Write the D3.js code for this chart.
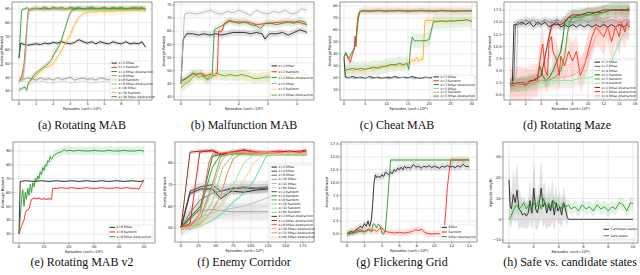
<!DOCTYPE html>
<html>
<head>
<meta charset="utf-8">
<script src="https://cdn.jsdelivr.net/npm/d3@7"></script>
<style>
  body { margin: 0; background: #fff; }
  svg { display: block; }
  text { font-family: "DejaVu Sans", sans-serif; }
  text.caption { font-family: "Liberation Serif", "Times New Roman", serif; }
</style>
</head>
<body>
<svg id="chart" width="640" height="275"></svg>
<script>
// ---------- (a) Rotating MAB ----------
var aNames = ["k=2 RMax", "k=2 Random", "k=2 RMax Abstraction", "k=8 RMax", "k=8 Random",
  "k=8 RMax Abstraction", "k=16 RMax", "k=16 Random", "k=16 RMax Abstraction"];
var aK2RMax = [[0,54],[0.1,65],[0.3,64],[0.5,63.5],[0.75,64],[1,64.5],[1.25,64],[1.5,65],[1.75,64.5],[2,65.5],[2.25,65],[2.5,66],[2.75,65],[3,64.5],[3.25,65.5],[3.5,67.5],[3.75,66],[4,65],[4.25,66],[4.5,64.5],[4.75,66],[5,65],[5.25,64.5],[5.5,66],[5.75,65],[6,64.5],[6.25,66],[6.5,64.5],[6.75,65],[7,64.5],[7.2,66],[7.4,62]];
var aK2Random = [[0,37],[0.15,40],[0.3,50],[0.45,75],[0.55,89],[0.7,90],[1,90.5],[1.5,90],[2,90.5],[2.5,90],[3,90.5],[3.5,90],[4,90.5],[4.5,90],[5,90.5],[5.5,90],[6,90.5],[6.5,90],[7,90.5],[7.4,89.5]];
var aK2Abs = [[0,54],[0.15,89],[0.3,90],[0.5,91],[0.6,89],[0.75,90],[1,90.5],[1.25,90],[1.5,91.5],[1.75,90],[2,91],[2.25,90.5],[2.5,91],[2.75,90],[3,91],[3.25,90.5],[3.5,91],[3.75,90],[4,90.5],[4.25,91.5],[4.5,90],[4.75,90.5],[5,91],[5.25,90],[5.5,91],[5.75,90.5],[6,91],[6.25,90],[6.5,90.5],[6.75,91],[7,90.5],[7.2,91],[7.4,89]];
var aK8RMax = [[0,39],[0.25,38.5],[0.5,39.5],[0.75,39],[1,38],[1.25,39.5],[1.5,38.5],[1.75,39],[2,38],[2.25,39.5],[2.5,38.5],[2.75,39],[3,40],[3.25,38],[3.5,39],[3.75,39.5],[4,38.5],[4.25,39],[4.5,38],[4.75,39.5],[5,39],[5.25,38],[5.5,39.5],[5.75,39],[6,38.5],[6.25,39.5],[6.5,38.5],[6.75,39],[7,38],[7.2,39],[7.4,39.5]];
var aK8Random = [[0,37],[0.25,39],[0.4,55],[0.5,80],[0.6,89],[0.8,90],[1.5,89.5],[2.5,90],[3.5,89.5],[4.5,90],[5.5,89.5],[6.5,90],[7.4,89.5]];
var aK8Abs = [[0,37],[0.2,38],[0.35,55],[0.45,75],[0.55,88],[0.7,89.5],[1,90],[1.5,89.5],[2,90],[2.5,89.5],[3,90],[3.5,89.5],[4,90],[4.5,89.5],[5,90],[5.5,89.5],[6,90],[6.5,89.5],[7,90],[7.4,90]];
var aK16RMax = [[0,36.5],[0.3,37],[0.6,36],[1,36.5],[1.4,37],[1.8,36],[2.2,36.5],[2.6,37],[3,36],[3.4,36.5],[3.8,37],[4.2,36],[4.6,36.5],[5,37],[5.4,36],[5.8,36.5],[6.2,37],[6.6,36],[7,36.5],[7.4,37]];
var aK16Random = [[0.55,36],[0.7,38],[1,41],[1.25,44],[1.5,47],[1.75,48],[2,50],[2.25,55],[2.5,60],[2.75,66],[3,71],[3.2,77],[3.4,82],[3.6,85],[3.8,87],[4,87.5],[4.25,88],[4.5,87.5],[4.75,88.5],[5,88],[5.25,88.5],[5.5,88],[5.75,89],[6,88.5],[6.25,89],[6.5,89],[6.75,90],[7,89.5],[7.2,90],[7.4,90]];
var aK16Abs = [[0,31],[0.2,32],[0.35,33],[0.45,30.5],[0.55,36],[0.7,38],[0.9,42],[1.1,44],[1.3,46],[1.5,48],[1.7,50],[1.9,53],[2.05,57],[2.2,60],[2.35,63],[2.5,68],[2.65,74],[2.8,80],[2.95,86],[3.1,89],[3.3,90],[3.5,90.5],[4,90],[4.5,90.5],[5,90],[5.5,90.5],[6,90],[6.5,90.5],[7,90],[7.4,90.5]];
var aSpread = [1.5, 2, 1.5, 1.5, 1, 1.5, 1, 3, 2];

// ---------- (b) Malfunction MAB ----------
var bNames = ["k=2 RMax", "k=2 Random", "k=2 RMax Abstraction", "k=5 RMax", "k=5 Random", "k=5 RMax Abstraction"];
var bK2RMax = [[0,45],[0.08,62],[0.2,64],[0.4,64],[0.6,63.5],[0.8,64],[1,63.5],[1.2,64],[1.4,63.5],[1.6,64],[1.8,64.5],[2,64.5],[2.2,64.5],[2.4,64],[2.6,64.5],[2.8,64],[2.9,62],[3.05,64],[3.3,64],[3.5,64.5],[3.7,63.5],[3.9,64.5],[4.1,65.5],[4.25,65],[4.35,64.5]];
var bK2Random = [[0,46],[0.2,47],[0.4,49],[0.55,48.5],[0.7,49],[0.85,48],[1,48.5],[1.1,48],[1.25,48.5],[1.3,65],[1.42,65],[1.5,68],[1.65,69],[1.8,68.5],[2,68.5],[2.3,68.5],[2.6,67.5],[3,68],[3.5,68.5],[4,68.5],[4.35,67.5]];
var bK2Abs = [[0,46],[0.15,47],[0.3,48],[0.45,49],[0.6,47.5],[0.75,48],[0.9,47],[1,48],[1.08,48.5],[1.15,65.5],[1.3,66.5],[1.4,67],[1.55,68],[1.7,69],[1.85,68.5],[2,68],[2.2,68.5],[2.4,67.5],[2.6,67],[2.75,66],[2.9,68],[3.1,68],[3.3,67.5],[3.5,68],[3.7,68.5],[3.9,68],[4.1,69],[4.25,68.5],[4.35,67.5]];
var bK5RMax = [[0,45],[0.12,71.5],[0.3,72],[0.5,71.5],[0.7,72],[0.9,72.5],[1,73],[1.2,72],[1.4,71.5],[1.6,72.5],[1.8,72],[2,73],[2.2,72],[2.4,71],[2.6,73],[2.8,72],[3,71.5],[3.2,72.5],[3.4,72],[3.6,73],[3.8,71.5],[4,72],[4.15,73.5],[4.35,73]];
var bK5Random = [[0,44],[0.2,46],[0.4,47.5],[0.6,48],[0.8,47],[1,48],[1.2,48.5],[1.5,48],[2,48],[2.5,47.5],[3,48],[3.5,48],[4,48.5],[4.35,48]];
var bK5Abs = [[0,43.5],[0.15,45],[0.3,46],[0.45,48],[0.6,49],[0.75,48.5],[0.9,46.5],[1,47],[1.1,48],[1.2,49],[1.35,48.5],[1.5,48],[1.7,48.5],[1.9,48],[2.1,48.5],[2.3,48],[2.5,47],[2.7,47],[2.9,47.5],[3.1,47.5],[3.3,48],[3.5,48],[3.7,48.5],[3.9,48.5],[4.1,49],[4.35,48]];
var bSpread = [1.2, 1, 1.5, 1.2, 2, 2];

// ---------- (c) Cheat MAB ----------
var cNames = ["k=3 RMax", "k=3 Random", "k=3 RMax Abstraction", "k=5 RMax", "k=5 Random", "k=5 RMax Abstraction"];
var cK3RMax = [[0,37],[0.3,21],[1,20],[2,21],[3,20],[4,20.5],[5,19.5],[6,21],[7,20],[8,20.5],[9,19.5],[10,20.5],[11,20],[12,21],[13,20],[14,20.5],[15,20],[16,21],[17,20],[18,19.5],[19,20.5],[20,20],[21,20.5]];
var cK3Random = [[0,38],[0.5,40],[1,36],[1.5,33],[2,40],[2.4,45],[2.6,55],[2.8,46],[3,62],[3.3,72],[3.6,75],[4,75.5],[4.5,76],[6,76],[8,76],[10,76],[12,76],[14,76],[16,76],[18,76],[20,76],[22,76],[24,76],[26,76],[28,76],[30,76]];
var cK3Abs = [[0,37],[0.4,41],[0.8,38],[1.2,36],[1.6,40],[2,42],[2.4,44],[2.8,50],[3.1,60],[3.4,70],[3.7,75],[4,76],[5,76],[6,75.5],[7,76],[8,76.5],[9,76],[10,75.5],[11,76],[12,76],[13,76.5],[14,76],[15,75.5],[16,76],[17,76],[18,76.5],[19,76],[20,76],[21,75.5],[22,76],[23,76.5],[24,76],[25,76],[26,75.5],[27,76],[28,76],[29,76],[30,76]];
var cK5RMax = [[0,21],[0.5,19.5],[1.5,20],[2.5,19],[3.5,20],[4.5,19.5],[5.5,20.5],[6.5,19],[7.5,20],[8.5,19.5],[9.5,20],[10.5,19],[11.5,20],[12.5,19.5],[13.5,20.5],[14.5,19.5],[15.5,20],[16.5,19],[17.5,20],[18.5,19.5],[19.5,20.5],[20.5,19.5],[21.5,20]];
var cK5Random = [[0,26],[1,27],[2,26],[3,27],[4,26],[5,27],[6,28],[7,27],[8,29],[9,30],[10,29],[11,31],[12,30],[13,31],[14,30],[15,33],[15.5,32],[16,35],[16.5,34],[17,37],[17.5,34],[18,36],[18.5,35],[18.8,55],[19,68],[20,68],[21,68],[22,67.5],[23,68],[24,67.5],[25,68],[26,67.5],[27,68],[28,68],[29,68.5],[30,67.5]];
var cK5Abs = [[0,26],[1,27],[2,28],[3,27],[4,28],[5,27],[6,28],[7,29],[8,28],[9,29],[10,30],[11,31],[12,31],[13,32],[14,31],[14.8,32],[15.2,27],[15.6,45],[16,54],[16.5,51],[17,51],[18,51],[19,51],[20,52],[20.5,60],[21,67],[22,67],[23,67.5],[24,67],[25,67.5],[26,67.5],[27,68],[28,68],[29,68.5],[30,67]];
var cSpread = [0.8, 3, 2, 0.8, 3, 6];

// ---------- (d) Rotating Maze ----------
var dNames = ["k=2 RMax", "k=3 RMax", "k=4 RMax", "k=2 Random", "k=3 Random", "k=4 Random",
  "k=2 RMax Abstraction", "k=3 RMax Abstraction", "k=4 RMax Abstraction"];
var dK2RMax = [[0,2.5],[0.3,2],[0.5,14.5],[1,14.5],[1.5,15],[2,14.5],[2.5,15],[3,14],[3.5,15],[4,14.5],[4.5,15],[5,14],[5.5,14.5],[6,15],[6.5,14],[7,14.5],[7.5,14],[8,14.5],[8.5,14],[9,14.5],[9.5,14],[10,14.5],[10.5,14],[11,14.5],[11.5,14],[12,14.5],[12.5,14],[13,14.5],[13.5,14],[14,14.5],[14.5,14],[15,14.5],[15.3,14]];
var dK3RMax = [[0,2.5],[0.5,3],[0.7,14.5],[1,15],[1.5,14.5],[2,15.5],[2.5,15],[3,15.5],[3.5,14.5],[4,15],[4.5,15.5],[5,15],[5.5,15],[6,15.5],[6.5,15],[7,15.5],[8,15],[9,15.5],[10,15],[11,15.5],[12,15],[13,15.5],[14,15],[15,15.5],[15.3,15]];
var dK4RMax = [[0,2.5],[0.8,3],[1,14.5],[1.5,15.5],[2,15],[3,15.5],[4,15],[5,15.5],[6,15],[7,15.5],[8,15.2],[9,15.5],[10,15],[11,15.5],[12,15],[13,15.5],[14,15],[15.3,15.5]];
var dK2Random = [[0,2],[0.5,2.5],[1,2],[1.5,2.5],[2,2],[2.5,3],[3,3],[3.5,3.5],[3.8,6],[4.2,4],[4.5,3],[5,3.5],[5.5,5],[6,7],[6.5,9],[6.8,12],[7,15],[7.5,16],[8,16],[9,16.5],[10,16.5],[11,17],[12,17],[13,17.5],[14,17.5],[15,17.5],[15.3,18]];
var dK3Random = [[0,2],[1,2],[2,2.5],[3,2.5],[4,3],[5,3],[5.5,3.5],[6,4],[6.5,5],[7,8],[7.3,12],[7.6,15],[8,16],[9,16],[10,16.5],[11,16.5],[12,17],[13,17.5],[14,17.5],[15.3,17.5]];
var dK4Random = [[0,2],[1,2],[2,2],[3,2.5],[4,2.5],[5,3],[6,3],[7,3],[8,3],[9,3.5],[10,3.5],[11,4],[12,4],[12.5,5],[13,7],[13.5,9],[14,11],[14.5,12.5],[15,13.5],[15.3,14]];
var dK2Abs = [[0,2],[0.5,2],[1,2.5],[2,2.5],[3,3],[3.5,3.5],[4,4],[4.5,8],[5,12],[5.3,14],[5.6,14.5],[6,14.5],[6.5,14.5],[7,15],[7.5,16],[8,16.5],[9,16.5],[10,17],[11,17],[12,17.5],[13,17.5],[14,17.5],[15,17.5],[15.3,17.5]];
var dK3Abs = [[0,2],[1,2.5],[2,2],[3,3],[3.5,3],[4,9],[4.2,10.5],[4.5,5],[4.8,4],[5,11],[5.3,12],[5.5,9],[6,7],[6.3,4],[6.5,8],[7,6],[7.5,9],[8,7],[8.5,9],[9,4],[9.5,6],[10,9],[10.5,12],[11,14],[11.5,13],[12,12],[12.5,14],[13,11],[13.5,14],[14,12],[14.3,15],[14.7,13],[15,15],[15.3,14.5]];
var dK4Abs = [[0,2],[2,2.5],[4,3],[6,3.5],[8,4],[9,5],[10,8],[11,12],[12,14],[13,13],[14,15],[15,14],[15.3,15]];
var dSpread = [0.8, 0.8, 0.8, 1.5, 1.5, 1.5, 1, 3.5, 2.5];

// ---------- (e) Rotating MAB v2 ----------
var eNames = ["k=8 RMax", "k=8 Random", "k=8 RMax Abstraction"];
var eRMax = [[0,30],[0.5,68],[3,68.5],[6,68],[9,68.5],[12,68],[15,68.5],[18,68],[21,68.5],[24,68],[27,68.5],[30,68],[33,68.5],[36,68],[39,68.5],[42,68],[45,68.5],[48,68],[50,68.5]];
var eRandom = [[0,30],[0.5,33],[1,36],[1.5,38],[2,40],[2.5,45],[3,47],[3.5,47.5],[4,48],[4.5,52],[5,55],[5.5,55.5],[6,56],[7,55.5],[8,56],[9,55],[10,55.5],[11,55],[12,55.5],[13,55],[13.5,63],[15,63],[17,63.5],[19,63],[21,63.5],[23,63],[25,63],[27,63.5],[29,63],[31,63],[33,63.5],[35,63],[37,63],[39,63.5],[41,63],[43,63.5],[45,63],[47,63],[48,62.5],[49,66],[50,69]];
var eAbs = [[0,30],[0.5,42],[1,55],[1.5,62],[2,50],[2.5,60],[3,55],[3.5,63],[4,58],[4.5,66],[5,60],[5.5,67],[6,64],[6.5,70],[7,68],[7.5,72],[8,70],[8.5,75],[9,73],[9.5,78],[10,76],[10.5,80],[11,79],[11.5,83],[12,82],[12.5,86],[13,84],[14,87],[15,88],[16,89],[17,89.5],[18,91],[19,90],[20,90.5],[22,90],[24,90.5],[26,90],[28,90],[30,90.5],[32,90],[34,90],[36,90.5],[38,90],[40,90],[42,90.5],[44,90],[46,90],[48,90.5],[50,90]];
var eSpread = [0.4, 0.8, 3];

// ---------- (f) Enemy Corridor ----------
var fNames = ["k=2 RMax", "k=4 RMax", "k=8 RMax", "k=16 RMax", "k=32 RMax", "k=64 RMax",
  "k=2 Random", "k=4 Random", "k=8 Random", "k=16 Random", "k=32 Random", "k=64 Random",
  "k=2 RMax Abstraction", "k=4 RMax Abstraction", "k=8 RMax Abstraction",
  "k=16 RMax Abstraction", "k=32 RMax Abstraction", "k=64 RMax Abstraction"];
var fRMax2 = [[0,50],[13,66],[28,68],[45,68],[57,63.5],[72,67],[90,66.5],[108,67.5],[125,68]];
var fRMax4 = [[0,50],[13,67],[28,69],[45,70],[57,67],[72,68],[90,68.5],[108,68],[125,68.5]];
var fRMax8 = [[0,50],[13,57],[28,63],[45,66],[57,67],[72,68.5],[90,69],[108,68.5],[125,69]];
var fRMax16 = [[0,50],[13,55],[28,58],[45,58.5],[57,58],[72,57.5],[90,57.5],[108,57.5],[125,57.5]];
var fRMax32 = [[0,50],[13,52],[28,55],[45,57],[57,58],[72,59],[90,60],[108,62],[125,64],[150,66],[175,67.5]];
var fRMax64 = [[0,50],[13,51],[28,53],[45,55],[57,56],[72,56.5],[90,57],[108,56.5],[125,57]];
var fRand2 = [[0,50],[13,55],[28,60],[45,83],[57,84],[72,84.5],[90,84.5],[108,84],[125,84],[140,84],[155,84],[170,84],[180,84]];
var fRand4 = [[0,50],[13,54],[28,59],[45,78],[57,84],[72,84.5],[90,84.5],[108,84],[125,84],[140,84],[155,84],[170,84],[180,84]];
var fRand8 = [[0,50],[13,51],[28,55],[45,70],[57,83],[72,84],[90,84],[108,84],[125,84],[140,84],[155,84],[170,84],[180,84]];
var fRand16 = [[0,50],[13,50],[28,53],[45,62],[60,78],[75,84],[90,84],[108,84],[125,84],[140,84],[155,84],[170,84],[180,84]];
var fRand32 = [[0,50],[13,50],[28,52],[45,56],[60,62],[75,70],[90,80],[105,84],[125,84],[140,84],[155,84],[170,84],[180,84]];
var fRand64 = [[0,50],[13,49.5],[28,51],[45,53.5],[60,57],[75,62],[90,66],[105,72],[122,83],[130,84],[150,84],[180,84]];
var fAbs2 = [[0,50],[13,85],[28,85.5],[45,85.5],[57,84],[72,85],[90,86],[108,85],[125,84.5],[140,85],[155,85.5],[170,85],[180,85.5]];
var fAbs4 = [[0,50],[13,52],[27,85],[45,86],[57,84],[72,85],[90,86],[108,85],[125,85],[140,85.5],[155,85],[170,85.5],[180,86]];
var fAbs8 = [[0,50],[13,51],[28,57],[40,80],[45,84],[57,84.5],[72,85],[90,85],[108,85],[125,84.5],[140,85],[155,84.5],[170,85],[180,85]];
var fAbs16 = [[0,50],[13,50.5],[28,54],[45,68],[57,80],[65,84],[72,84.5],[90,85],[108,84.5],[125,85],[140,84.5],[155,85],[170,84.5],[180,85]];
var fAbs32 = [[0,50],[13,50],[28,52],[45,58],[57,65],[66,75],[75,82],[85,84],[90,84.5],[108,84],[125,84.5],[140,84],[155,84.5],[170,84],[180,84.5]];
var fAbs64 = [[0,50],[13,50],[28,51],[45,54],[57,60],[72,66],[90,72],[105,80],[115,83],[125,84],[140,84],[155,84.5],[170,84],[180,84.5]];
var fSpread = [1.5, 2, 3, 4, 4, 4, 0.8, 0.8, 0.8, 0.8, 0.8, 0.8, 1, 1, 1, 1, 1, 1];

// ---------- (g) Flickering Grid ----------
var gNames = ["RMax", "Random", "RMax Abstraction"];
var gRMax = [[0,0],[0.25,0.3],[0.5,0.5],[0.75,0.3],[1,0.8],[1.25,1],[1.5,1.5],[1.75,1.2],[2,2],[2.2,1.5],[2.4,2.5],[2.6,1.5],[2.8,2.8],[2.95,6],[3.1,10],[3.25,11.5],[3.4,11],[3.6,11.2],[3.8,11],[4,11.5],[4.2,11.2],[4.4,12],[4.6,11.8],[4.8,11.5],[5,12],[5.2,11.8],[5.4,12.5],[5.6,12.2],[5.8,12.8],[6,12.5],[6.2,13],[6.4,12.5],[6.6,13.2],[6.8,12.8],[7,13],[7.3,12.8],[7.6,13.5],[7.9,13],[8.2,13.2],[8.5,12.8],[8.8,13.2],[9.1,13],[9.4,13.3],[9.7,12.9],[10,13.2],[10.3,13],[10.6,12.8],[10.9,13.2],[11.2,13],[11.5,13.3],[11.8,13],[12.1,13.2],[12.4,12.9],[12.7,13.3],[13,13],[13.3,13.6],[13.6,13.1],[13.9,13.2],[14,13]];
var gRandom = [[0,0],[0.5,0.2],[1,0.5],[1.5,0.8],[2,0.5],[2.5,1],[2.8,0.5],[3.1,0.8],[3.4,0.5],[3.7,1],[4,1.2],[4.3,0.6],[4.6,0.4],[5,0.3],[5.5,0.2],[6,0.3],[6.5,0.2],[7,0.3],[7.5,0.5],[7.8,0.8],[8.2,0.7],[8.6,0.9],[8.9,0.3],[9.3,0.1],[9.8,0],[10.3,0.1],[10.8,0],[11.1,0.2],[11.3,4],[11.5,9],[11.7,12],[11.9,14.4],[12.5,14.4],[13,14.4],[14,14.4]];
var gAbs = [[0,0],[0.5,0.1],[1,0.3],[1.5,0.5],[2,0.4],[2.5,0.8],[2.8,0.5],[3,2],[3.2,1.8],[3.4,1.2],[3.6,1.9],[3.8,1.5],[4,0.2],[4.2,0],[4.4,0.8],[4.6,5],[4.8,10],[5,14.4],[6,14.4],[8,14.4],[10,14.4],[12,14.4],[14,14.4]];
var gSpread = [0.7, 0.6, 0.5];

// ---------- (h) Safe vs. candidate states ----------
var hNames = ["Candidate states", "Safe states"];
var hCandidate = [[0,19],[0.1,6],[0.2,5],[0.35,12],[0.5,8],[0.65,14],[0.8,5],[0.95,4],[1.1,2],[1.25,3],[1.4,1.5],[1.55,3],[1.7,9],[1.85,3],[2.0,15],[2.15,5],[2.3,3],[2.45,8],[2.6,15],[2.75,6],[2.9,8],[3.05,3],[3.2,7],[3.35,4],[3.5,9],[3.65,2],[3.8,8],[3.95,4],[4.1,6],[4.25,2],[4.4,8],[4.55,5],[4.7,1],[4.8,0],[6,0],[8,0],[10,0]];
var hCandidateSpread = [14,10,8,12,10,14,10,8,6,7,6,7,10,8,14,10,8,10,14,10,10,8,10,8,10,8,8,6,8,6,8,6,4,0,0,0,0];
var hSafe = [[0,0],[0.2,2],[0.4,5],[0.6,7],[0.8,5],[1,6],[1.2,8],[1.4,5],[1.6,7],[1.8,4],[2.0,8],[2.2,6],[2.4,9],[2.6,5],[2.8,10],[3.0,6],[3.2,8],[3.4,5],[3.6,9],[3.8,6],[4,7],[4.2,5],[4.4,8],[4.6,6],[4.8,7],[5,5],[5.3,6],[5.6,4],[5.9,7],[6.2,5],[6.5,6],[6.8,4],[7.1,7],[7.4,5],[7.7,6],[8,4],[8.3,6],[8.6,5],[8.9,8],[9.2,7],[9.5,4],[9.8,8],[10,7.5]];
var hSafeSpread = 3;

// ---------- panel layout ----------
function series(names, colors, datas, spreads) {
  return names.map(function(n, i) {
    return { name: n, color: colors[i], data: datas[i],
      spread: Array.isArray(spreads) ? spreads[i] : spreads };
  });
}

var range = function(a, b, s) { return d3.range(a, b + s / 2, s); };

var panels = [
  { box: [12, 2, 152, 100], xd: [-0.41, 7.78], yd: [23.4, 95.1], xt: range(0, 7, 1), yt: range(30, 90, 10), yf: d3.format("d"),
    ylab: "Average Reward", cap: "(a) Rotating MAB", capX: 82, capY: 129, leg: [110, 61, 41, 9 * 4.2],
    series: series(aNames, ["#222", "#ff2a1a", "#2e9a2e", "#9a9a9a", "#ffb0a8", "#6fd06f", "#cfcfcf", "#ffb52e", "#3f9d2f"],
      [aK2RMax, aK2Random, aK2Abs, aK8RMax, aK8Random, aK8Abs, aK16RMax, aK16Random, aK16Abs], aSpread) },
  { box: [174, 2, 314, 100], xd: [-0.24, 4.59], yd: [38.8, 76.1], xt: range(0, 4, 1), yt: range(40, 75, 5), yf: d3.format("d"),
    ylab: "Average Reward", cap: "(b) Malfunction MAB", capX: 244, capY: 129, leg: [270, 63, 43, 35],
    series: series(bNames, ["#222", "#ff2a1a", "#2e9a2e", "#b5b5b5", "#ffd27a", "#5aae3a"],
      [bK2RMax, bK2Random, bK2Abs, bK5RMax, bK5Random, bK5Abs], bSpread) },
  { box: [340, 2, 477, 100], xd: [-0.94, 31.2], yd: [1.4, 83.4], xt: range(0, 30, 5), yt: range(10, 80, 10), yf: d3.format("d"),
    ylab: "Average Reward", cap: "(c) Cheat MAB", capX: 397, capY: 129, leg: [432, 75, 43, 23],
    series: series(cNames, ["#222", "#ff2a1a", "#2e9a2e", "#b5b5b5", "#ffaa1e", "#3e9a36"],
      [cK3RMax, cK3Random, cK3Abs, cK5RMax, cK5Random, cK5Abs], cSpread) },
  { box: [504, 2, 637, 100], xd: [-0.77, 16.26], yd: [-1.03, 19.15], xt: range(0, 16, 2), yt: range(0, 17.5, 2.5), yf: d3.format(".1f"),
    ylab: "Average Reward", cap: "(d) Rotating Maze", capX: 567, capY: 129, leg: [593, 60, 42, 38],
    series: series(dNames, ["#222", "#666", "#bdbdbd", "#1e7a1e", "#39a839", "#8be0a8", "#9b1a10", "#ff2a1a", "#ff9a90"],
      [dK2RMax, dK3RMax, dK4RMax, dK2Random, dK3Random, dK4Random, dK2Abs, dK3Abs, dK4Abs], dSpread) },
  { box: [13, 142, 155, 243], xd: [-2.4, 54.4], yd: [23.5, 96.5], xt: range(0, 50, 10), yt: range(30, 90, 10), yf: d3.format("d"),
    ylab: "Average Reward", cap: "(e) Rotating MAB v2", capX: 82, capY: 266, leg: [108, 225, 45, 14],
    series: series(eNames, ["#222", "#ff2a1a", "#2e9a2e"], [eRMax, eRandom, eAbs], eSpread) },
  { box: [175, 142, 314, 242], xd: [-8.6, 190.8], yd: [43.5, 89.7], xt: range(0, 175, 25), yt: range(50, 80, 10), yf: d3.format("d"),
    ylab: "Average Reward", cap: "(f) Enemy Corridor", capX: 244, capY: 266, leg: [270, 165, 43, 74],
    series: series(fNames, ["#222", "#444", "#6e6e6e", "#999", "#bbb", "#d8d8d8",
        "#2a6e22", "#3f9a2e", "#62b548", "#8fd070", "#a8e2a0", "#5ad8b0",
        "#8b1a10", "#e01a10", "#ff5a4a", "#f4a19a", "#d2955e", "#f5d39a"],
      [fRMax2, fRMax4, fRMax8, fRMax16, fRMax32, fRMax64, fRand2, fRand4, fRand8, fRand16, fRand32, fRand64,
        fAbs2, fAbs4, fAbs8, fAbs16, fAbs32, fAbs64], fSpread) },
  { box: [341, 142, 477, 242], xd: [-0.69, 14.9], yd: [-1.56, 17.9], xt: range(0, 14, 2), yt: range(0, 17.5, 2.5), yf: d3.format(".1f"),
    ylab: "Average Reward", cap: "(g) Flickering Grid", capX: 402, capY: 266, leg: [440, 225, 36, 14],
    series: series(gNames, ["#222", "#ff2a1a", "#2e9a2e"], [gRMax, gRandom, gAbs], gSpread) },
  { box: [503, 142, 638, 243], xd: [-0.48, 10.4], yd: [-11.4, 37.2], xt: range(0, 10, 2), yt: range(-10, 30, 10), yf: d3.format("d"),
    ylab: "Episode length", cap: "(h) Safe vs. candidate states", capX: 570, capY: 266, leg: [602, 226, 33, 13],
    series: series(hNames, ["#222", "#2e9a2e"], [hCandidate, hSafe], [hCandidateSpread, hSafeSpread]) }
];

var svg = d3.select("#chart");

panels.forEach(function(p, pi) {
  var x0 = p.box[0], y0 = p.box[1], x1 = p.box[2], y1 = p.box[3];
  var x = d3.scaleLinear().domain(p.xd).range([x0, x1]);
  var y = d3.scaleLinear().domain(p.yd).range([y1, y0]);
  var g = svg.append("g");

  g.append("clipPath").attr("id", "clip" + pi)
    .append("rect").attr("x", x0).attr("y", y0).attr("width", x1 - x0).attr("height", y1 - y0);

  // grid
  g.selectAll(".gx").data(p.xt).enter().append("line")
    .attr("x1", function(d) { return x(d); }).attr("x2", function(d) { return x(d); })
    .attr("y1", y0).attr("y2", y1).attr("stroke", "#e2e2e2").attr("stroke-width", 0.7);
  g.selectAll(".gy").data(p.yt).enter().append("line")
    .attr("y1", function(d) { return y(d); }).attr("y2", function(d) { return y(d); })
    .attr("x1", x0).attr("x2", x1).attr("stroke", "#e2e2e2").attr("stroke-width", 0.7);

  var plot = g.append("g").attr("clip-path", "url(#clip" + pi + ")");

  // std bands
  p.series.forEach(function(s) {
    var sp = function(i) {
      if (Array.isArray(s.spread)) return s.spread[i] || 0;
      return s.spread || 0;
    };
    var area = d3.area()
      .x(function(d) { return x(d[0]); })
      .y0(function(d, i) { return y(d[1] - sp(i)); })
      .y1(function(d, i) { return y(d[1] + sp(i)); });
    plot.append("path").attr("d", area(s.data))
      .attr("fill", s.color).attr("fill-opacity", 0.13).attr("stroke", "none");
  });

  var line = d3.line().x(function(d) { return x(d[0]); }).y(function(d) { return y(d[1]); });
  p.series.forEach(function(s) {
    plot.append("path").attr("d", line(s.data))
      .attr("fill", "none").attr("stroke", s.color).attr("stroke-width", 0.9)
      .attr("stroke-linejoin", "round");
  });

  // frame
  g.append("rect").attr("x", x0).attr("y", y0).attr("width", x1 - x0).attr("height", y1 - y0)
    .attr("fill", "none").attr("stroke", "#555").attr("stroke-width", 0.6);

  // ticks
  g.selectAll(".tx").data(p.xt).enter().append("line")
    .attr("x1", function(d) { return x(d); }).attr("x2", function(d) { return x(d); })
    .attr("y1", y1).attr("y2", y1 + 1.5).attr("stroke", "#555").attr("stroke-width", 0.5);
  g.selectAll(".txl").data(p.xt).enter().append("text")
    .attr("x", function(d) { return x(d); }).attr("y", y1 + 5.2)
    .attr("text-anchor", "middle").attr("font-size", 3.8).attr("fill", "#222")
    .text(d3.format("d"));
  g.selectAll(".ty").data(p.yt).enter().append("line")
    .attr("y1", function(d) { return y(d); }).attr("y2", function(d) { return y(d); })
    .attr("x1", x0 - 1.5).attr("x2", x0).attr("stroke", "#555").attr("stroke-width", 0.5);
  g.selectAll(".tyl").data(p.yt).enter().append("text")
    .attr("x", x0 - 2.2).attr("y", function(d) { return y(d) + 1.3; })
    .attr("text-anchor", "end").attr("font-size", 3.8).attr("fill", "#222")
    .text(p.yf);

  // axis labels
  var xl = g.append("text").attr("x", (x0 + x1) / 2).attr("y", y1 + 9.8)
    .attr("text-anchor", "middle").attr("font-size", 3.8).attr("fill", "#222");
  xl.append("tspan").text("Episodes (unit=10");
  xl.append("tspan").attr("font-size", 2.8).attr("dy", -1.3).text("6");
  xl.append("tspan").attr("dy", 1.3).text(")");
  var yw = d3.max(p.yt, function(d) { return p.yf(d).length; });
  g.append("text")
    .attr("transform", "translate(" + (x0 - 4 - yw * 2.3) + "," + ((y0 + y1) / 2) + ") rotate(-90)")
    .attr("text-anchor", "middle").attr("font-size", 3.8).attr("fill", "#222").text(p.ylab);

  // legend
  var lx = p.leg[0], ly = p.leg[1], lw = p.leg[2], lh = p.leg[3];
  var rowH = lh / p.series.length;
  g.append("rect").attr("x", lx).attr("y", ly).attr("width", lw).attr("height", lh)
    .attr("fill", "#fff").attr("fill-opacity", 0.85).attr("stroke", "#ccc").attr("stroke-width", 0.4).attr("rx", 0.8);
  p.series.forEach(function(s, i) {
    var cy = ly + rowH * (i + 0.5);
    g.append("line").attr("x1", lx + 1.5).attr("x2", lx + 7).attr("y1", cy).attr("y2", cy)
      .attr("stroke", s.color).attr("stroke-width", 1);
    g.append("text").attr("x", lx + 8.5).attr("y", cy + 1.1)
      .attr("font-size", 3.1).attr("fill", "#222").text(s.name);
  });

  // caption
  svg.append("text").attr("class", "caption").attr("x", p.capX).attr("y", p.capY)
    .attr("text-anchor", "middle").attr("font-size", 12).attr("fill", "#111").text(p.cap);
});
</script>
</body>
</html>
